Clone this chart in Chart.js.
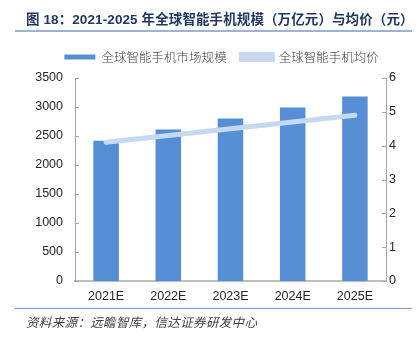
<!DOCTYPE html>
<html>
<head>
<meta charset="utf-8">
<script src="https://cdn.jsdelivr.net/npm/chart.js@4.4.0/dist/chart.umd.min.js"></script>
<style>
  html, body { margin: 0; padding: 0; background: #fff; }
  #wrap { position: relative; width: 417px; height: 338px; overflow: hidden; }
  #chart { position: absolute; left: 0; top: 0; }
  #title { position: absolute; left: 26px; top: 8px; font: bold 13.5px "Liberation Sans", "Noto Sans CJK SC", sans-serif; color: #1F3864; white-space: nowrap; letter-spacing: 0.1px; }
  #tline { position: absolute; left: 15px; top: 30px; width: 397px; height: 2px; background: #9DB3D6; }
  #fline { position: absolute; left: 15px; top: 308px; width: 397px; height: 1px; background: #7F9FCF; }
  #source { position: absolute; left: 26px; top: 312px; font: italic 12.5px "Noto Sans CJK SC", sans-serif; color: #404040; white-space: nowrap; letter-spacing: 0.35px; }
</style>
</head>
<body>
<div id="wrap">
  <canvas id="chart" width="417" height="338"></canvas>
  <div id="title">图 18：2021-2025 年全球智能手机规模（万亿元）与均价（元）</div>
  <div id="tline"></div>
  <div id="fline"></div>
  <div id="source">资料来源：远瞻智库，信达证券研发中心</div>
</div>
<script>
const categories = ["2021E", "2022E", "2023E", "2024E", "2025E"];
const marketSize = [2420, 2610, 2800, 2990, 3180];
const avgPrice = [4.1, 4.3, 4.5, 4.7, 4.9];
const leftTicks = [0, 500, 1000, 1500, 2000, 2500, 3000, 3500];
const rightTicks = [0, 1, 2, 3, 4, 5, 6];

const axisColor = "#A6A6A6";
const tickFont = { family: "'Liberation Sans', Arial, sans-serif", size: 12.5 };

const innerTicks = {
  id: "innerTicks",
  afterInit(chart) {
    const lg = chart.legend;
    if (lg) {
      const origFit = lg.fit.bind(lg);
      lg.fit = function () { origFit(); this.height += 4.75; };
    }
  },
  afterDraw(chart) {
    const ctx = chart.ctx;
    const area = chart.chartArea;
    ctx.save();
    ctx.strokeStyle = axisColor;
    ctx.lineWidth = 1;
    const yl = chart.scales.y;
    yl.ticks.forEach(t => {
      const py = Math.round(yl.getPixelForValue(t.value)) + 0.5;
      ctx.beginPath(); ctx.moveTo(area.left, py); ctx.lineTo(area.left + 4, py); ctx.stroke();
    });
    const yr = chart.scales.y1;
    yr.ticks.forEach(t => {
      const py = Math.round(yr.getPixelForValue(t.value)) + 0.5;
      ctx.beginPath(); ctx.moveTo(area.right - 4, py); ctx.lineTo(area.right, py); ctx.stroke();
    });
    ctx.restore();
  }
};

new Chart(document.getElementById("chart"), {
  data: {
    labels: categories,
    datasets: [
      {
        type: "bar",
        label: "全球智能手机市场规模",
        data: marketSize,
        backgroundColor: "#558ED5",
        borderWidth: 0,
        categoryPercentage: 1,
        barPercentage: 0.41,
        yAxisID: "y",
        order: 1
      },
      {
        type: "line",
        label: "全球智能手机均价",
        data: avgPrice,
        borderColor: "#C6D9F1",
        backgroundColor: "#C6D9F1",
        borderWidth: 5,
        borderCapStyle: "round",
        pointRadius: 0,
        tension: 0,
        yAxisID: "y1",
        order: 0
      }
    ]
  },
  options: {
    responsive: false,
    animation: false,
    layout: { padding: { left: 26, right: 0, top: 36, bottom: 0 } },
    plugins: {
      tooltip: { enabled: false },
      legend: {
        position: "top",
        labels: {
          boxWidth: 31,
          boxHeight: 5,
          padding: 14.75,
          color: "#404040",
          font: { family: "'Noto Sans CJK SC', sans-serif", size: 12.5, weight: 300 },
          sort: (a, b) => a.datasetIndex - b.datasetIndex
        }
      }
    },
    scales: {
      x: {
        grid: { display: false, drawTicks: false },
        border: { display: true, color: "#BFBFBF", width: 2 },
        ticks: { color: "#262626", font: tickFont, padding: 8 },
        afterFit(s) { s.height = 57; }
      },
      y: {
        position: "left",
        min: 0, max: 3500,
        afterBuildTicks(s) { s.ticks = leftTicks.map(v => ({ value: v })); },
        grid: { display: false, drawTicks: false },
        border: { display: true, color: axisColor, width: 1 },
        ticks: { color: "#262626", font: tickFont, padding: 12, callback: v => String(v) },
        afterFit(s) { s.width = 49; }
      },
      y1: {
        position: "right",
        min: 0, max: 6,
        afterBuildTicks(s) { s.ticks = rightTicks.map(v => ({ value: v })); },
        grid: { display: false, drawTicks: false },
        border: { display: true, color: axisColor, width: 1 },
        ticks: { color: "#262626", font: tickFont, padding: 3, callback: v => String(v) },
        afterFit(s) { s.width = 31; }
      }
    }
  },
  plugins: [innerTicks]
});
</script>
</body>
</html>
